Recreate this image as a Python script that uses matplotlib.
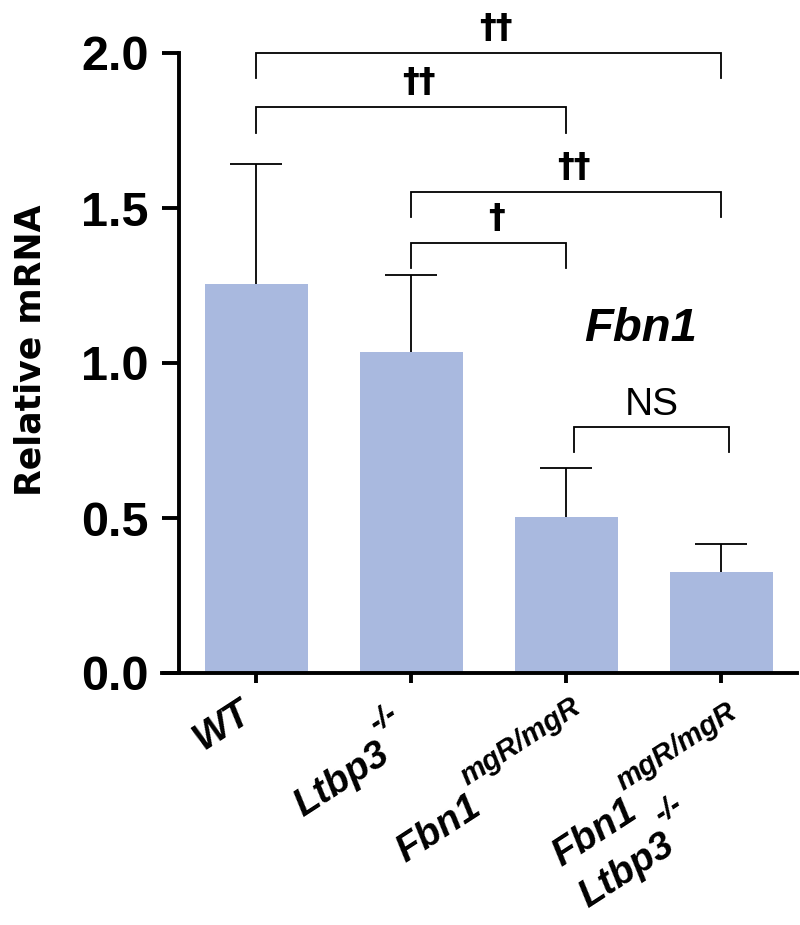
import matplotlib
matplotlib.use("Agg")
import matplotlib.pyplot as plt
import numpy as np
from matplotlib.font_manager import FontProperties

# =========================
# data
# =========================
groups = ["WT", "Ltbp3-/-", "Fbn1mgR/mgR", "Fbn1mgR/mgR Ltbp3-/-"]
# each label: list of lines, each line = (main text, superscript)
label_lines = [
    [("WT", "")],
    [("Ltbp3", "-/-")],
    [("Fbn1", "mgR/mgR")],
    [("Fbn1", "mgR/mgR"), ("Ltbp3", "-/-")],
]
means = [1.256, 1.036, 0.502, 0.325]
sd = [0.386, 0.248, 0.160, 0.092]

# significance brackets: (group a, group b, height, label)
brackets = [
    (0, 3, 2.000, "††"),
    (0, 2, 1.825, "††"),
    (1, 3, 1.552, "††"),
    (1, 2, 1.387, "†"),
    (2, 3, 0.794, "NS"),
]

# =========================
# style
# =========================
plt.rcParams["font.family"] = ["Liberation Sans", "DejaVu Sans"]

bar_color = "#a9b9df"
W, H = 800, 925

fig = plt.figure(figsize=(W / 100, H / 100), dpi=100)
# axes box in pixels: x 162..797, y 53..673
ax = fig.add_axes([162 / W, 1 - 673 / H, (797 - 162) / W, (673 - 53) / H])

step = 155.0  # pixels between bars
x = np.arange(len(means))
ax.set_xlim((162 - 256) / step, (797 - 256) / step)
ax.set_ylim(0, 2.0)

ax.bar(x, means, width=103 / step, color=bar_color, zorder=2)

# upper error bars only
cap = 26 / step
top = np.array(means) + np.array(sd)
ax.vlines(x, means, top, color="black", lw=1.3, zorder=3)
ax.hlines(top, x - cap, x + cap, color="black", lw=1.3, zorder=3)

# brackets
drop = 0.082
for a, b, y, lab in brackets:
    shift = 0.05 if lab == "NS" else 0.0
    xa, xb = a + shift, b + shift
    ax.plot([xa, xa, xb, xb], [y - drop, y, y, y - drop], color="black",
            lw=1.3, clip_on=False, solid_joinstyle="miter")
    if lab == "NS":
        ax.annotate(lab, xy=((xa + xb) / 2, y), xytext=(0, 8.5),
                    textcoords="offset points", ha="center", va="baseline",
                    fontsize=28, annotation_clip=False)
    else:
        ax.annotate(lab, xy=((xa + xb) / 2 + 0.05, y), xytext=(0, 11),
                    textcoords="offset points", ha="center", va="baseline",
                    fontsize=24, fontweight="bold", family=["DejaVu Sans"],
                    annotation_clip=False)

ax.text(2.48, 1.07, "Fbn1", fontsize=34, fontweight="bold", style="italic",
        ha="center", va="baseline")

# axes look
for s in ["top", "right"]:
    ax.spines[s].set_visible(False)
ax.spines["left"].set_position(("data", (179 - 256) / step))
ax.spines["left"].set_linewidth(2.8)
ax.spines["bottom"].set_linewidth(2.8)

ax.set_yticks([0.0, 0.5, 1.0, 1.5, 2.0])
ax.set_yticklabels(["0.0", "0.5", "1.0", "1.5", "2.0"])
ax.tick_params(axis="y", length=12, width=2.8, pad=10, labelsize=35)
for t in ax.get_yticklabels():
    t.set_fontweight("bold")

# x labels: rotated, built from main text + raised superscript
ax.set_xticks(x)
ax.set_xticklabels([])
ax.tick_params(axis="x", length=7, width=2.8)

angle = 33
main_size, sup_size = 28, 21
sup_raise = 22      # points above the main baseline
line_pitch = 35     # points between lines
label_offsets = [(-39, -56), (-78, -104), (-116, -137), (-115, -140)]

renderer = fig.canvas.get_renderer()
fp_main = FontProperties(family="Liberation Sans", weight="bold",
                         style="italic", size=main_size)
u = np.array([np.cos(np.radians(angle)), np.sin(np.radians(angle))])
n = np.array([-u[1], u[0]])

for i, lines in enumerate(label_lines):
    base = np.array(label_offsets[i], dtype=float)
    for k, (main, sup) in enumerate(lines):
        start = base - k * line_pitch * n
        w_px = renderer.get_text_width_height_descent(main, fp_main, False)[0]
        w_pt = w_px * 72 / fig.dpi
        pieces = [(main, start, main_size)]
        if sup:
            pieces.append((sup, start + (w_pt + 1.0) * u + sup_raise * n,
                           sup_size))
        for txt, off, size in pieces:
            ax.annotate(txt, xy=(i, 0), xycoords=("data", "axes fraction"),
                        xytext=tuple(off), textcoords="offset points",
                        fontsize=size, fontweight="bold", style="italic",
                        rotation=angle, rotation_mode="anchor",
                        ha="left", va="baseline", annotation_clip=False)

ax.set_ylabel("Relative mRNA", fontsize=25, fontweight="bold",
              family=["DejaVu Sans"])
ax.yaxis.set_label_coords(-0.181, 0.521)

fig.savefig("out.png", dpi=100)
